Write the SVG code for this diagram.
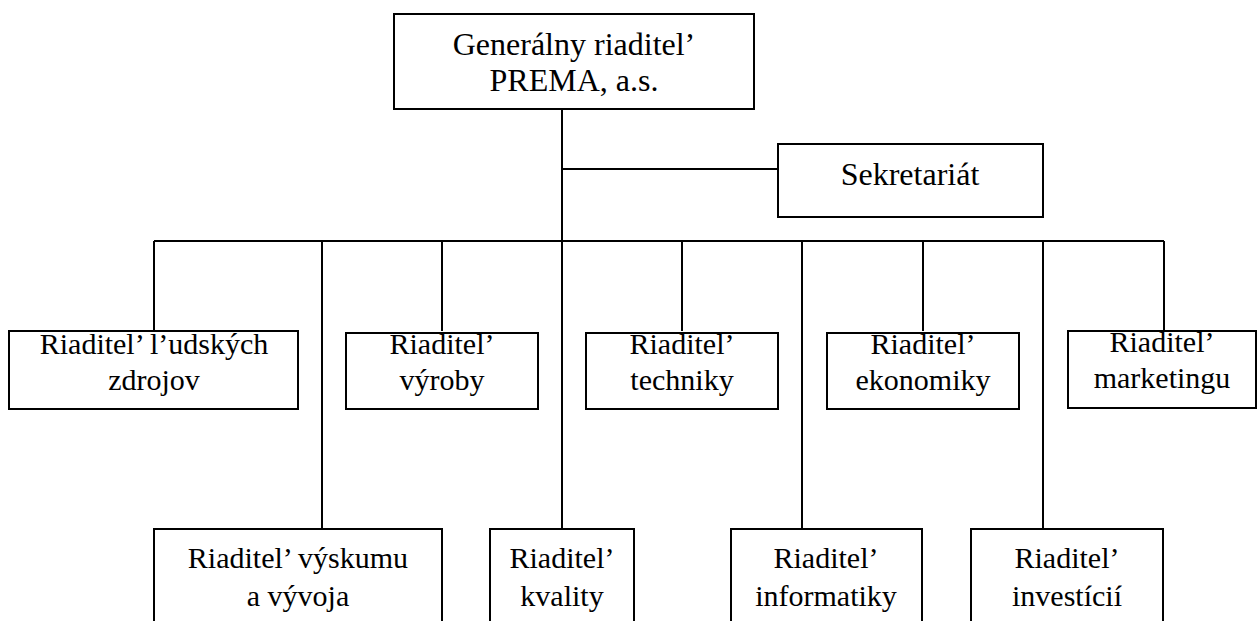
<svg xmlns="http://www.w3.org/2000/svg" width="1259" height="621" viewBox="0 0 1259 621">
  <style>
    .box { fill: #ffffff; stroke: #000000; stroke-width: 2; }
    .line { fill: none; stroke: #000000; stroke-width: 2; }
    text { font-family: "Liberation Serif", "Times New Roman", serif; font-size: 30px; fill: #000000; text-anchor: middle; }
    .big { font-size: 32px; }
  </style>
  <rect width="1259" height="621" fill="#ffffff"/>

  <!-- connectors -->
  <g id="connectors" class="line">
    <path d="M562 109 V241"/>
    <path d="M562 169 H778"/>
    <path d="M154 241 H1164"/>
    <path d="M154 241 V331 M442 241 V331 M682 241 V331 M923 241 V331 M1164 241 V331"/>
    <path d="M322 241 V529 M562 241 V529 M802 241 V529 M1043 241 V529"/>
  </g>

  <g id="gr">
    <rect class="box" x="394" y="14" width="360" height="95"/>
    <text class="big" x="574" y="55">Generálny riaditel’</text>
    <text class="big" x="574" y="91">PREMA, a.s.</text>
  </g>

  <g id="sekretariat">
    <rect class="box" x="778" y="144" width="265" height="73"/>
    <text class="big" x="910" y="185">Sekretariát</text>
  </g>

  <g id="ludske-zdroje">
    <rect class="box" x="9" y="331" width="289" height="78"/>
    <text x="154" y="354">Riaditel’ l’udských</text>
    <text x="154" y="390">zdrojov</text>
  </g>

  <g id="vyroba">
    <rect class="box" x="346" y="333" width="192" height="76"/>
    <text x="442" y="354">Riaditel’</text>
    <text x="442" y="390">výroby</text>
  </g>

  <g id="technika">
    <rect class="box" x="586" y="333" width="192" height="76"/>
    <text x="682" y="354">Riaditel’</text>
    <text x="682" y="390">techniky</text>
  </g>

  <g id="ekonomika">
    <rect class="box" x="827" y="333" width="192" height="76"/>
    <text x="923" y="354">Riaditel’</text>
    <text x="923" y="390">ekonomiky</text>
  </g>

  <g id="marketing">
    <rect class="box" x="1068" y="331" width="188" height="77"/>
    <text x="1162" y="352">Riaditel’</text>
    <text x="1162" y="388">marketingu</text>
  </g>

  <g id="vyskum">
    <rect class="box" x="154" y="529" width="288" height="100"/>
    <text x="298" y="568">Riaditel’ výskumu</text>
    <text x="298" y="606">a vývoja</text>
  </g>

  <g id="kvalita">
    <rect class="box" x="490" y="529" width="144" height="100"/>
    <text x="562" y="568">Riaditel’</text>
    <text x="562" y="606">kvality</text>
  </g>

  <g id="informatika">
    <rect class="box" x="731" y="529" width="191" height="100"/>
    <text x="826" y="568">Riaditel’</text>
    <text x="826" y="606">informatiky</text>
  </g>

  <g id="investicie">
    <rect class="box" x="971" y="529" width="192" height="100"/>
    <text x="1067" y="568">Riaditel’</text>
    <text x="1067" y="606">investícií</text>
  </g>
</svg>
